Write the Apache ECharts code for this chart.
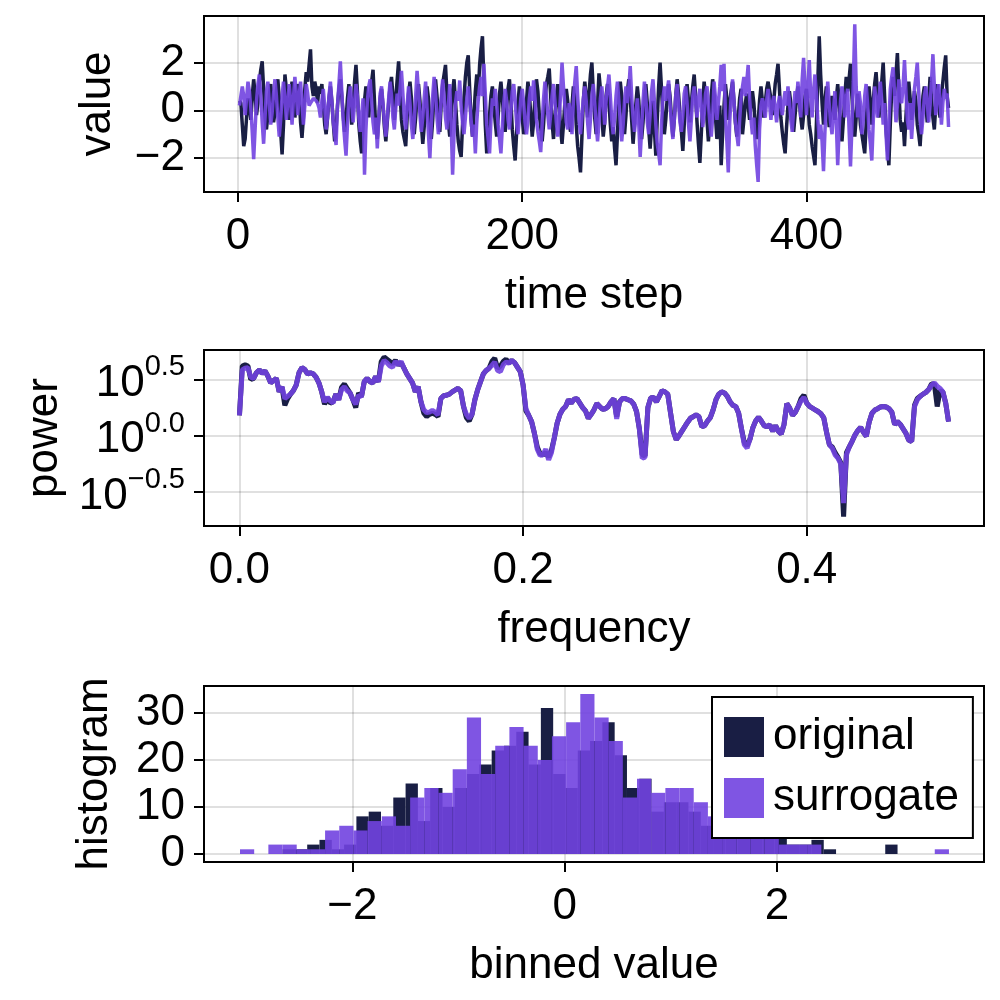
<!DOCTYPE html>
<html><head><meta charset="utf-8">
<script src="https://cdn.jsdelivr.net/npm/echarts@6/dist/echarts.min.js"></script>
<style>html,body{margin:0;padding:0;background:#fff}#c{width:1000px;height:1000px}</style>
</head><body><div id="c"></div>
<script>
const NAVY = '#191E44';
const PURPLE = 'rgba(113,67,224,0.9)';
const FONT = 'Liberation Sans';
const FS = 44;

// ---- time series (500 steps) ----
const tsOriginal = [
0.4,0.3,-0.6,-1.5,-1.2,-0.3,0.5,0.2,-0.4,0.6,1.3,0.7,-0.2,0.3,1.2,1.7,2.05,0.9,-0.3,-0.8,
-0.2,0.6,1.1,0.4,-0.5,-0.1,0.8,1.3,0.5,-0.9,-1.85,-0.6,1.5,0.9,0.1,-0.4,0.5,1.2,0.7,-0.3,
0.4,1.1,0.6,-0.5,-1.15,-0.3,0.9,1.6,1.2,1.9,2.55,1.0,0.6,1.2,0.9,0.3,1.0,0.7,1.1,0.2,
-0.6,-1.0,-0.3,0.5,1.0,0.4,-0.5,-1.3,-0.8,0.2,0.9,1.3,0.6,-0.2,-0.9,-0.4,0.5,1.1,0.3,-0.6,
0.2,1.2,1.9,0.8,-0.6,-1.3,-1.8,-0.7,0.4,1.0,0.5,-0.3,0.6,1.2,1.7,0.4,-0.8,-1.2,-0.4,0.5,
0.9,0.2,-0.7,-1.3,-0.5,0.3,1.0,1.4,0.6,-0.4,0.5,1.3,2.05,0.8,-0.4,-0.9,-1.2,-1.5,-0.3,0.7,
1.2,0.5,-0.4,-1.0,-0.3,0.6,1.1,0.4,-0.6,-1.4,-0.7,0.3,1.0,0.5,-0.5,-1.2,-0.4,0.8,1.3,0.6,
-0.2,-0.9,0.3,1.1,1.5,1.9,0.7,-0.5,-1.1,-0.3,0.8,1.3,0.4,-0.6,-1.3,-1.7,-1.95,-0.6,0.5,1.4,
2.0,2.3,0.9,-0.4,-1.1,-0.2,0.8,1.5,0.6,1.9,2.6,3.1,1.2,-0.6,-1.8,-1.2,-0.2,0.6,1.0,0.2,
-0.5,-1.1,-0.3,0.7,1.2,0.5,-0.4,-0.9,0.1,0.9,1.3,0.4,-0.8,-1.5,-2.1,-1.0,0.3,1.0,0.5,-0.3,
-1.0,-0.6,0.4,1.2,0.7,-0.2,-1.1,-0.5,0.6,1.3,0.8,-0.2,-0.7,-1.3,-0.6,0.4,1.1,1.4,1.75,0.6,
-0.5,-1.2,-0.4,0.5,1.1,0.3,-0.8,-1.4,-0.6,0.3,0.9,0.4,-0.5,-0.9,0.2,1.0,0.5,-0.6,-1.5,-2.0,
-2.6,-1.1,0.4,1.2,0.6,-0.3,0.7,1.5,2.0,0.8,-0.3,-1.0,0.2,1.55,0.9,-0.2,-1.1,-0.5,0.6,1.1,
0.4,-0.6,-1.3,-0.7,-1.6,-2.3,-1.0,0.4,1.2,0.6,-0.3,-1.0,-0.2,0.8,1.3,0.5,-0.4,-1.4,-0.6,0.3,
1.0,0.4,-0.6,-1.2,-0.5,0.5,1.1,0.3,-0.8,-1.6,-0.7,0.4,-0.8,-1.9,-0.4,1.0,2.0,0.9,-0.2,-1.0,
-0.4,0.5,1.1,0.6,-0.3,-1.1,-0.4,0.6,1.3,0.7,-0.2,-0.9,-1.7,-0.6,0.5,1.1,0.4,-0.5,0.3,1.0,
1.5,0.6,-0.5,-1.4,-2.2,-1.0,0.3,1.2,0.6,-0.4,-1.3,-0.5,0.6,1.3,0.7,-0.3,-1.2,-0.5,0.2,-2.3,
-1.0,0.2,1.1,0.5,-0.4,0.3,0.8,1.2,0.4,-0.5,-1.1,-0.3,0.5,0.9,-1.0,-0.4,0.3,0.7,0.2,-0.4,
0.3,0.8,0.3,-0.6,-1.2,-0.5,0.4,1.0,0.4,-0.3,0.3,0.9,1.2,1.2,0.5,-0.2,0.4,1.1,1.5,1.95,
0.9,-0.3,-0.9,-1.4,-1.8,-0.7,0.2,0.8,0.3,-0.5,-0.9,-0.2,0.5,1.0,0.4,-0.3,-0.8,-0.2,0.6,0.9,
0.3,-0.6,-1.0,-1.5,-1.9,-2.3,-0.6,1.2,3.1,1.5,0.3,-0.6,0.4,1.0,0.2,-0.7,-0.2,0.6,0.3,-0.4,
0.5,1.1,0.4,-0.7,-1.3,-0.4,0.6,1.4,0.8,1.3,1.95,0.6,-0.4,-1.1,-0.3,0.7,0.2,-0.6,-1.0,-1.4,
-1.8,-0.6,0.5,1.0,0.3,-0.6,0.4,1.1,1.6,0.7,-0.3,0.4,1.2,2.0,0.6,-0.8,-1.6,-2.3,-0.6,0.8,
1.4,0.6,1.5,2.4,0.9,-0.4,-0.9,-0.5,-1.5,-0.3,0.8,1.2,0.5,-0.4,0.2,0.8,0.4,-0.6,-1.0,-1.5,
-0.4,0.6,1.0,0.3,-0.5,0.4,1.4,0.5,-0.3,-0.8,0.2,1.1,0.4,-0.3,0.6,1.2,1.8,2.3,0.6,0.1
];
const tsSurrogate = [
0.2,0.6,1.0,0.6,-0.2,0.5,1.2,0.8,0.1,-0.9,-2.05,-0.8,0.4,1.1,1.5,0.6,-0.5,-1.4,-0.3,0.8,
1.2,0.3,-0.6,-0.1,0.7,1.3,0.6,-0.3,-1.1,-0.4,0.6,1.2,0.5,-0.4,0.3,1.1,0.4,-0.6,0.5,1.4,
0.7,-0.2,0.6,1.2,0.3,-0.6,0.2,1.1,0.7,0.2,0.3,0.4,0.5,0.5,0.4,0.3,0.1,-0.3,0.4,0.9,
0.2,-0.8,-0.3,0.6,1.2,0.4,-0.5,-1.0,-1.45,0.2,1.1,2.05,0.8,-0.4,-1.2,-1.9,-0.6,0.5,1.0,0.3,
-0.5,0.3,1.1,0.6,-0.3,-0.9,-0.2,0.5,-2.7,-0.8,0.4,1.0,1.3,0.4,-0.5,-1.0,-0.3,-1.6,-0.4,0.7,
1.0,0.3,-0.5,-1.1,-0.4,0.5,1.2,0.6,-0.3,-0.8,0.1,0.7,0.2,0.9,1.65,0.7,-0.3,-0.8,0.2,1.0,
0.3,-0.6,-1.2,-0.4,0.6,1.65,0.8,-0.2,-0.9,-0.3,0.5,1.2,0.1,-1.0,-2.0,-0.6,0.6,1.4,0.7,-0.3,
-1.0,-0.4,0.5,1.3,0.6,-0.3,-0.8,0.2,1.1,-0.6,-2.7,-1.0,0.3,0.8,0.4,1.25,0.2,-0.5,-1.0,-0.3,
0.5,1.0,0.4,-0.4,-1.1,-0.6,-1.8,-0.5,0.4,1.0,1.4,0.6,1.95,0.7,-0.6,-1.2,-1.8,-0.4,0.5,0.2,
0.9,0.3,-0.6,-1.2,-1.8,-0.7,0.3,0.9,0.4,-0.4,-0.8,0.0,0.8,1.1,0.4,-0.5,-1.0,-0.3,0.5,0.9,
0.3,-0.5,-1.0,-0.4,0.5,1.0,0.4,1.25,0.5,-0.4,-0.9,-1.3,-1.75,-0.6,0.5,1.2,0.6,-0.2,-0.8,-0.2,
0.6,1.1,0.4,-0.5,-1.1,-0.4,0.7,2.0,1.0,0.2,-0.5,-0.8,0.3,-0.2,-1.0,0.4,1.2,1.85,0.6,-0.4,
-1.0,-0.3,0.5,1.0,0.4,-0.5,-1.2,-0.4,0.6,1.1,0.3,-0.6,-1.3,-0.5,0.5,1.0,0.3,-0.6,0.4,1.0,
1.5,0.6,-0.4,-1.0,-0.3,0.6,1.2,0.4,-0.5,-1.3,-0.6,0.4,1.0,0.3,0.9,1.85,0.6,-0.3,-0.9,-0.2,
0.5,-0.6,-1.95,-0.8,0.4,1.2,0.5,-0.5,-1.0,-0.2,0.8,1.3,0.4,-0.6,-1.4,-1.8,-2.3,-0.6,0.5,1.0,
0.4,0.8,1.25,0.3,-0.6,-1.2,-0.4,0.6,1.1,0.3,-0.5,-0.9,-0.2,0.7,1.0,0.3,-0.6,-1.3,-0.4,0.6,
1.0,0.4,-0.3,0.5,0.9,0.2,-0.7,-0.2,0.7,1.0,0.3,-0.5,-1.1,-0.3,1.2,0.5,-0.4,0.3,1.0,1.9,
0.8,1.95,-0.2,-1.3,-2.6,-0.5,0.6,1.3,0.4,-0.5,-1.0,-1.5,-0.4,0.5,1.0,1.4,0.6,1.2,1.9,0.5,
-0.4,-1.0,-0.3,-1.5,-2.3,-3.0,-0.8,0.2,0.5,0.2,-0.3,0.4,0.9,0.3,-0.4,0.3,0.6,0.1,-0.5,0.2,
0.6,0.3,-0.2,0.4,0.8,0.2,1.0,0.4,-0.4,-0.9,0.1,0.8,0.3,1.2,0.5,-0.3,1.3,2.2,0.9,-0.2,
1.0,2.1,0.6,-0.3,0.8,1.5,0.7,-0.4,-1.2,-0.6,-1.3,-2.55,-0.9,0.4,1.2,0.3,-0.5,-1.0,-0.1,0.8,
-0.5,-2.3,-0.8,0.4,1.0,0.6,-0.3,0.5,0.9,-0.8,-2.35,-0.7,1.2,3.6,1.0,-0.3,0.8,0.3,-1.0,-0.4,
0.6,1.1,0.3,-0.8,-1.4,-2.1,-0.5,1.0,0.4,-0.3,0.5,1.2,0.4,-0.6,0.3,-1.0,-2.1,-0.6,0.9,1.4,
1.8,0.7,-0.5,0.2,1.3,0.5,0.3,1.0,2.1,0.8,-0.4,-0.8,0.3,-1.2,-0.2,0.9,1.4,2.0,0.8,-0.4,
-1.0,-0.3,0.6,1.0,0.4,-0.5,0.2,1.2,2.35,1.0,-0.2,0.5,1.1,0.4,-0.6,0.3,0.9,0.5,0.7,-0.7
];

// ---- power spectrum, log10(power), frequencies 0 .. 0.5 step 0.002 ----
const specOriginal = [
0.18,0.62,0.63,0.62,0.50,0.51,0.56,0.585,0.555,0.575,0.53,0.47,0.49,0.51,0.39,0.435,0.27,0.33,0.37,0.40,
0.45,0.56,0.605,0.59,0.55,0.56,0.55,0.52,0.47,0.39,0.28,0.34,0.29,0.30,0.37,0.32,0.43,0.46,0.42,0.38,
0.32,0.25,0.38,0.345,0.48,0.51,0.48,0.47,0.525,0.48,0.66,0.70,0.68,0.66,0.64,0.67,0.63,0.65,0.60,0.55,
0.51,0.47,0.39,0.435,0.30,0.20,0.17,0.19,0.20,0.19,0.17,0.33,0.355,0.36,0.37,0.39,0.405,0.42,0.40,0.26,
0.16,0.13,0.19,0.32,0.41,0.48,0.55,0.58,0.60,0.66,0.69,0.60,0.62,0.66,0.68,0.645,0.67,0.65,0.61,0.57,
0.45,0.22,0.18,0.125,0.02,-0.10,-0.16,-0.17,-0.15,-0.19,-0.13,-0.02,0.11,0.19,0.235,0.26,0.32,0.29,0.325,0.33,
0.29,0.25,0.22,0.155,0.19,0.23,0.285,0.26,0.235,0.24,0.26,0.30,0.33,0.17,0.30,0.33,0.33,0.32,0.31,0.28,
0.215,0.06,-0.17,-0.18,0.25,0.335,0.34,0.30,0.35,0.40,0.39,0.37,0.20,0.035,-0.035,0.0,0.04,0.08,0.12,0.155,
0.17,0.185,0.17,0.08,0.09,0.13,0.16,0.23,0.32,0.37,0.39,0.38,0.35,0.30,0.27,0.26,0.2,0.06,-0.06,-0.09,
-0.03,0.07,0.13,0.165,0.13,0.09,0.08,0.095,0.04,0.09,0.04,0.015,0.1,0.285,0.245,0.18,0.21,0.26,0.33,0.36,
0.29,0.26,0.245,0.23,0.215,0.195,0.16,0.03,-0.08,-0.10,-0.15,-0.19,-0.24,-0.72,-0.15,-0.1,-0.05,0.005,0.045,0.075,
0.03,-0.005,0.12,0.20,0.228,0.24,0.255,0.26,0.255,0.24,0.21,0.1,0.125,0.10,0.06,0.02,-0.04,-0.05,0.27,0.33,
0.35,0.37,0.385,0.41,0.46,0.46,0.26,0.40,0.39,0.29,0.125
];
const specSurrogate = [
0.18,0.585,0.60,0.605,0.52,0.51,0.56,0.585,0.555,0.575,0.53,0.47,0.49,0.51,0.39,0.435,0.33,0.35,0.37,0.40,
0.45,0.56,0.605,0.59,0.55,0.56,0.55,0.52,0.47,0.39,0.30,0.34,0.31,0.29,0.37,0.32,0.41,0.435,0.40,0.38,
0.32,0.28,0.36,0.345,0.48,0.51,0.48,0.47,0.525,0.48,0.62,0.67,0.65,0.62,0.61,0.66,0.63,0.66,0.60,0.55,
0.51,0.47,0.39,0.435,0.30,0.23,0.205,0.21,0.225,0.21,0.185,0.33,0.355,0.36,0.37,0.39,0.405,0.42,0.40,0.26,
0.19,0.155,0.19,0.32,0.41,0.48,0.55,0.58,0.60,0.625,0.655,0.58,0.57,0.63,0.655,0.645,0.67,0.65,0.61,0.57,
0.45,0.24,0.18,0.125,0.02,-0.12,-0.175,-0.17,-0.12,-0.215,-0.15,-0.02,0.11,0.19,0.235,0.26,0.32,0.29,0.325,0.33,
0.29,0.25,0.22,0.155,0.19,0.23,0.285,0.26,0.235,0.24,0.26,0.30,0.33,0.15,0.30,0.33,0.33,0.32,0.31,0.28,
0.215,0.06,-0.2,-0.19,0.25,0.335,0.34,0.30,0.35,0.40,0.39,0.37,0.20,0.035,-0.035,0.0,0.04,0.08,0.12,0.155,
0.17,0.185,0.17,0.08,0.09,0.13,0.16,0.23,0.32,0.37,0.39,0.38,0.35,0.30,0.27,0.26,0.2,0.06,-0.08,-0.11,
-0.03,0.07,0.13,0.165,0.13,0.09,0.08,0.095,0.04,0.09,0.04,0.015,0.1,0.285,0.245,0.18,0.21,0.26,0.31,0.34,
0.29,0.26,0.245,0.23,0.215,0.195,0.16,0.03,-0.08,-0.11,-0.17,-0.2,-0.25,-0.60,-0.17,-0.1,-0.05,0.005,0.045,0.075,
0.03,-0.005,0.12,0.20,0.228,0.24,0.255,0.26,0.255,0.24,0.21,0.1,0.125,0.10,0.06,0.02,-0.04,-0.05,0.26,0.32,
0.35,0.37,0.385,0.41,0.45,0.47,0.44,0.42,0.39,0.29,0.125
];

// ---- histograms (50 bins each) ----
const histOriginalStart = -2.656, histOriginalWidth = 0.1158;
const histOriginalCounts = [1,1,2,3,1,2,8,9,6,12, 15,7,14,10,14,17,19,22,23,26, 19,31,17,14,22,24,28,21,14,16, 9,11,11,9,6,6,5,5,4,5, 4,2,2,3,1,0,0,0,0,2];
const histSurrogateStart = -3.057, histSurrogateWidth = 0.1335;
const histSurrogateCounts = [1,0,2,2,1,1,5,6,5,7, 8,6,12,14,13,18,29,17,23,27, 23,20,25,28,34,29,24,12,16,13, 14,14,11,8,8,6,4,4,2,2, 2,0,0,0,0,0,0,0,0,1];

// ---- ticks ----
const tsTicksX = [0, 200, 400];
const tsTicksY = [-2, 0, 2];
const specTicksX = [0, 0.2, 0.4];
const specTicksY = [-0.5, 0, 0.5];
const histTicksX = [-2, 0, 2];
const histTicksY = [0, 10, 20, 30];

const minus = s => String(s).replace('-', '\u2212');

const tsOrigData = tsOriginal.map((v, i) => [i + 1, v]);
const tsSurData = tsSurrogate.map((v, i) => [i + 1, v]);
const specOrigData = specOriginal.map((v, i) => [i * 0.002, v]);
const specSurData = specSurrogate.map((v, i) => [i * 0.002, v]);
const histOrigData = histOriginalCounts.map((c, i) => [histOriginalStart + i * histOriginalWidth, histOriginalStart + (i + 1) * histOriginalWidth, c]);
const histSurData = histSurrogateCounts.map((c, i) => [histSurrogateStart + i * histSurrogateWidth, histSurrogateStart + (i + 1) * histSurrogateWidth, c]);

const txt = {fontSize: FS, fontFamily: FONT, color: '#000'};
const gridLine = {show: true, lineStyle: {color: 'rgba(0,0,0,0.12)', width: 2}};
const tick = vals => ({show: true, customValues: vals, length: 10, inside: false, lineStyle: {color: '#000', width: 2}});

function xAx(gi, min, max, ticks, fmt, name) {
  return {gridIndex: gi, type: 'value', min, max,
    axisLine: {show: false, onZero: false}, axisTick: tick(ticks),
    axisLabel: Object.assign({customValues: ticks, margin: 23, formatter: fmt}, txt),
    splitLine: gridLine,
    name, nameLocation: 'middle', nameGap: 82, nameTextStyle: txt};
}
function yAx(gi, min, max, ticks, fmt, name, gap, extra) {
  return {gridIndex: gi, type: 'value', min, max,
    axisLine: {show: false, onZero: false}, axisTick: tick(ticks),
    axisLabel: Object.assign({customValues: ticks, margin: 19, formatter: fmt}, txt, extra || {}),
    splitLine: gridLine,
    name, nameLocation: 'middle', nameGap: gap, nameRotate: 90, nameTextStyle: txt};
}

function histItem(color) {
  return function (params, api) {
    const p0 = api.coord([api.value(0), api.value(2)]);
    const p1 = api.coord([api.value(1), 0]);
    return {type: 'rect', shape: {x: p0[0], y: p0[1], width: p1[0] - p0[0], height: p1[1] - p0[1]},
      style: {fill: color}};
  };
}

const chart = echarts.init(document.getElementById('c'), null, {renderer: 'canvas'});
chart.setOption({
  animation: false,
  backgroundColor: '#fff',
  grid: [
    {left: 204, top: 16, width: 780, height: 176, show: true, borderColor: '#000', borderWidth: 2, containLabel: false},
    {left: 204, top: 350, width: 780, height: 176, show: true, borderColor: '#000', borderWidth: 2, containLabel: false},
    {left: 204, top: 686, width: 780, height: 176, show: true, borderColor: '#000', borderWidth: 2, containLabel: false}
  ],
  xAxis: [
    xAx(0, -23.95, 524.95, tsTicksX, v => minus(v), 'time step'),
    xAx(1, -0.025, 0.525, specTicksX, v => minus(v.toFixed(1)), 'frequency'),
    xAx(2, -3.396, 3.948, histTicksX, v => minus(v), 'binned value')
  ],
  yAxis: [
    yAx(0, -3.42, 3.95, tsTicksY, v => minus(v), 'value', 84),
    yAx(1, -0.803, 0.762, specTicksY, v => '{b|10}{s|' + minus(v.toFixed(1)) + '}', 'power', 137,
      {rich: {b: {fontSize: FS, fontFamily: FONT, color: '#000', verticalAlign: 'bottom'},
              s: {fontSize: 29, fontFamily: FONT, color: '#000', verticalAlign: 'bottom', padding: [0, 0, 24, 0]}}}),
    yAx(2, -1.7, 35.7, histTicksY, v => minus(v), 'histogram', 87)
  ],
  legend: {
    data: [{name: 'original', icon: 'rect', itemStyle: {color: NAVY}},
           {name: 'surrogate', icon: 'rect', itemStyle: {color: PURPLE}}],
    orient: 'vertical', left: 712, top: 697, itemWidth: 40, itemHeight: 40, itemGap: 17,
    padding: [18, 14, 18, 12], backgroundColor: '#fff', borderColor: '#000', borderWidth: 2, borderRadius: 0,
    textStyle: {fontSize: FS, fontFamily: FONT, color: '#000', padding: [0, 0, 0, 4]}, selectedMode: false
  },
  series: [
    {type: 'line', name: 'ts_original', xAxisIndex: 0, yAxisIndex: 0, data: tsOrigData, showSymbol: false, symbol: 'none',
      lineStyle: {color: NAVY, width: 3.5}, itemStyle: {color: NAVY}},
    {type: 'line', name: 'ts_surrogate', xAxisIndex: 0, yAxisIndex: 0, data: tsSurData, showSymbol: false, symbol: 'none',
      lineStyle: {color: PURPLE, width: 3.5}, itemStyle: {color: PURPLE}},
    {type: 'line', name: 'spec_original', xAxisIndex: 1, yAxisIndex: 1, data: specOrigData, showSymbol: false, symbol: 'none',
      lineStyle: {color: NAVY, width: 5}, itemStyle: {color: NAVY}},
    {type: 'line', name: 'spec_surrogate', xAxisIndex: 1, yAxisIndex: 1, data: specSurData, showSymbol: false, symbol: 'none',
      lineStyle: {color: PURPLE, width: 5}, itemStyle: {color: PURPLE}},
    {type: 'custom', name: 'original', xAxisIndex: 2, yAxisIndex: 2, data: histOrigData,
      encode: {x: [0, 1], y: 2}, renderItem: histItem(NAVY), itemStyle: {color: NAVY}},
    {type: 'custom', name: 'surrogate', xAxisIndex: 2, yAxisIndex: 2, data: histSurData,
      encode: {x: [0, 1], y: 2}, renderItem: histItem(PURPLE), itemStyle: {color: PURPLE}}
  ]
});
</script>
</body></html>
